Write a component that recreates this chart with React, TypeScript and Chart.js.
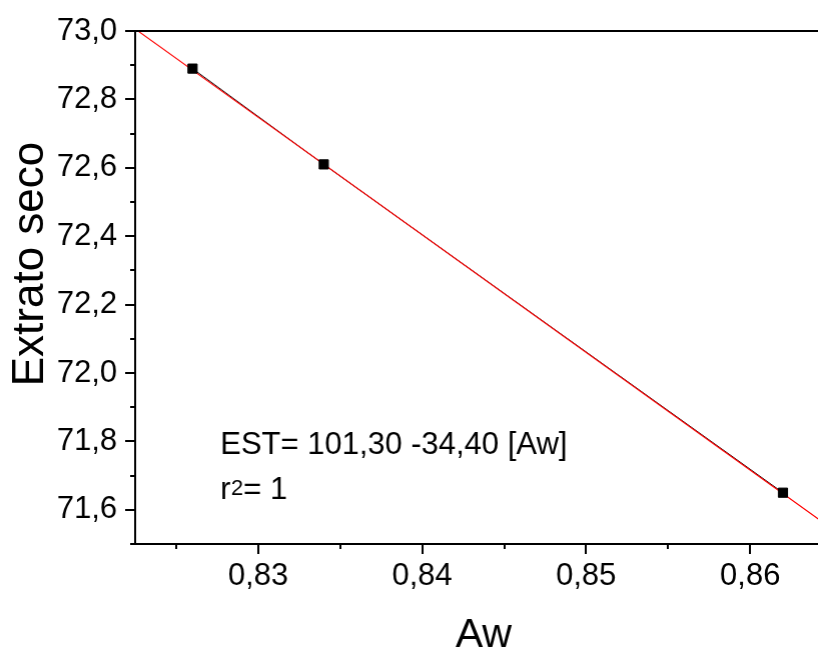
import React, { useEffect, useRef } from "react";
import { Chart, registerables } from "chart.js";

Chart.register(...registerables);

// ---- Data ----
const awValues = [0.826, 0.834, 0.862];
const extratoSeco = [72.89, 72.61, 71.65];
const fitIntercept = 101.3;
const fitSlope = -34.4;

const xRange = [0.8225, 0.8642];
const yRange = [71.5, 73.0];
const xMajorTicks = [0.83, 0.84, 0.85, 0.86];
const xMinorTicks = [0.825, 0.835, 0.845, 0.855];
const yMajorTicks = [71.6, 71.8, 72.0, 72.2, 72.4, 72.6, 72.8, 73.0];
const yMinorTicks = [71.5, 71.7, 71.9, 72.1, 72.3, 72.5, 72.7, 72.9];

const xTitle = "Aw";
const yTitle = "Extrato seco";
const eqText = "EST= 101,30 -34,40 [Aw]";
const r2Base = "r";
const r2Sup = "2";
const r2Rest = "= 1";

const FONT = "'Liberation Sans', Arial, sans-serif";
const POINT_RADIUS = 6.5;
const POINT_BORDER = 1;
const EXTRA_W = POINT_RADIUS + POINT_BORDER; // chart.js keeps this much room at the right edge

const decorPlugin = {
  id: "decor",
  afterDraw(chart: any) {
    const ctx = chart.ctx;
    const xs = chart.scales.x;
    const ys = chart.scales.y;
    const area = chart.chartArea;
    ctx.save();
    ctx.strokeStyle = "#000";
    ctx.lineWidth = 2;
    ctx.beginPath();
    ctx.moveTo(area.left, area.top);
    ctx.lineTo(area.right, area.top);
    xMajorTicks.forEach((v) => {
      const p = Math.round(xs.getPixelForValue(v));
      ctx.moveTo(p, area.bottom);
      ctx.lineTo(p, area.bottom + 10);
    });
    xMinorTicks.forEach((v) => {
      const p = Math.round(xs.getPixelForValue(v));
      ctx.moveTo(p, area.bottom);
      ctx.lineTo(p, area.bottom + 5);
    });
    yMajorTicks.forEach((v) => {
      const p = Math.round(ys.getPixelForValue(v));
      ctx.moveTo(area.left, p);
      ctx.lineTo(area.left - 10, p);
    });
    yMinorTicks.forEach((v) => {
      const p = Math.round(ys.getPixelForValue(v));
      ctx.moveTo(area.left, p);
      ctx.lineTo(area.left - 5, p);
    });
    ctx.stroke();

    ctx.fillStyle = "#000";
    ctx.font = `41px ${FONT}`;
    ctx.textAlign = "center";
    ctx.textBaseline = "alphabetic";
    ctx.fillText(xTitle, 483, 647);

    ctx.save();
    ctx.translate(43, 264);
    ctx.rotate(-Math.PI / 2);
    ctx.font = `44px ${FONT}`;
    ctx.textAlign = "center";
    ctx.fillText(yTitle, 0, 0);
    ctx.restore();

    ctx.textAlign = "left";
    ctx.font = `31px ${FONT}`;
    ctx.fillText(eqText, 220, 454);
    let x = 220;
    ctx.fillText(r2Base, x, 499);
    x += ctx.measureText(r2Base).width;
    ctx.font = `22px ${FONT}`;
    ctx.fillText(r2Sup, x + 0.5, 495);
    x += ctx.measureText(r2Sup).width + 0.5;
    ctx.font = `31px ${FONT}`;
    ctx.fillText(r2Rest, x, 499);
    ctx.restore();
  },
};

export default function App() {
  const canvasRef = useRef<HTMLCanvasElement | null>(null);

  useEffect(() => {
    document.body.style.margin = "0";
    document.body.style.overflow = "hidden";
    const canvas = canvasRef.current;
    if (!canvas) return;
    const points = awValues.map((x, i) => ({ x, y: extratoSeco[i] }));
    const fitLine = xRange.map((x) => ({ x, y: fitIntercept + fitSlope * x }));
    const fmt = (v: number, d: number) => v.toFixed(d).replace(".", ",");

    const chart = new Chart(canvas, {
      type: "scatter",
      data: {
        datasets: [
          {
            label: "points",
            data: points,
            pointStyle: "rect",
            pointRadius: POINT_RADIUS,
            pointBackgroundColor: "#000",
            pointBorderColor: "#000",
            pointBorderWidth: POINT_BORDER,
            showLine: false,
          },
          {
            label: "fit",
            data: fitLine,
            showLine: true,
            borderColor: "#ff0000",
            borderWidth: 1.1,
            pointRadius: 0,
          },
          {
            label: "line",
            data: points,
            showLine: true,
            borderColor: "#000",
            borderWidth: 1,
            pointRadius: 0,
          },
        ],
      } as any,
      options: {
        animation: false,
        responsive: true,
        maintainAspectRatio: false,
        layout: { padding: { left: 0, right: 0, top: 31, bottom: 0 } },
        plugins: {
          legend: { display: false },
          tooltip: { enabled: false },
          title: { display: false },
        },
        scales: {
          x: {
            type: "linear",
            min: xRange[0],
            max: xRange[1],
            grid: { display: false, drawTicks: false },
            border: { display: true, color: "#000", width: 2 },
            afterBuildTicks: (s: any) => {
              s.ticks = xMajorTicks.map((v) => ({ value: v }));
            },
            afterFit: (s: any) => {
              s.height = 104;
              s.paddingLeft = 0;
              s.paddingRight = 0;
              s.paddingTop = 0;
              s.paddingBottom = 0;
            },
            ticks: {
              padding: 14,
              color: "#000",
              font: { family: FONT, size: 31 },
              maxRotation: 0,
              autoSkip: false,
              callback: (v: any) => fmt(Number(v), 2),
            },
          },
          y: {
            type: "linear",
            min: yRange[0],
            max: yRange[1],
            grid: { display: false, drawTicks: false },
            border: { display: true, color: "#000", width: 2 },
            afterBuildTicks: (s: any) => {
              s.ticks = yMajorTicks.map((v) => ({ value: v }));
            },
            afterFit: (s: any) => {
              s.width = 135;
              s.paddingLeft = 0;
              s.paddingRight = 0;
              s.paddingTop = 0;
              s.paddingBottom = 0;
            },
            ticks: {
              padding: 18,
              color: "#000",
              font: { family: FONT, size: 31 },
              autoSkip: false,
              callback: (v: any) => fmt(Number(v), 1),
            },
          },
        },
      } as any,
      plugins: [decorPlugin],
    });
    return () => chart.destroy();
  }, []);

  return (
    <div style={{ width: 818, height: 648, overflow: "hidden", position: "relative" }}>
      <div style={{ width: 818 + EXTRA_W, height: 648, position: "relative" }}>
        <canvas ref={canvasRef} style={{ display: "block" }} />
      </div>
    </div>
  );
}
